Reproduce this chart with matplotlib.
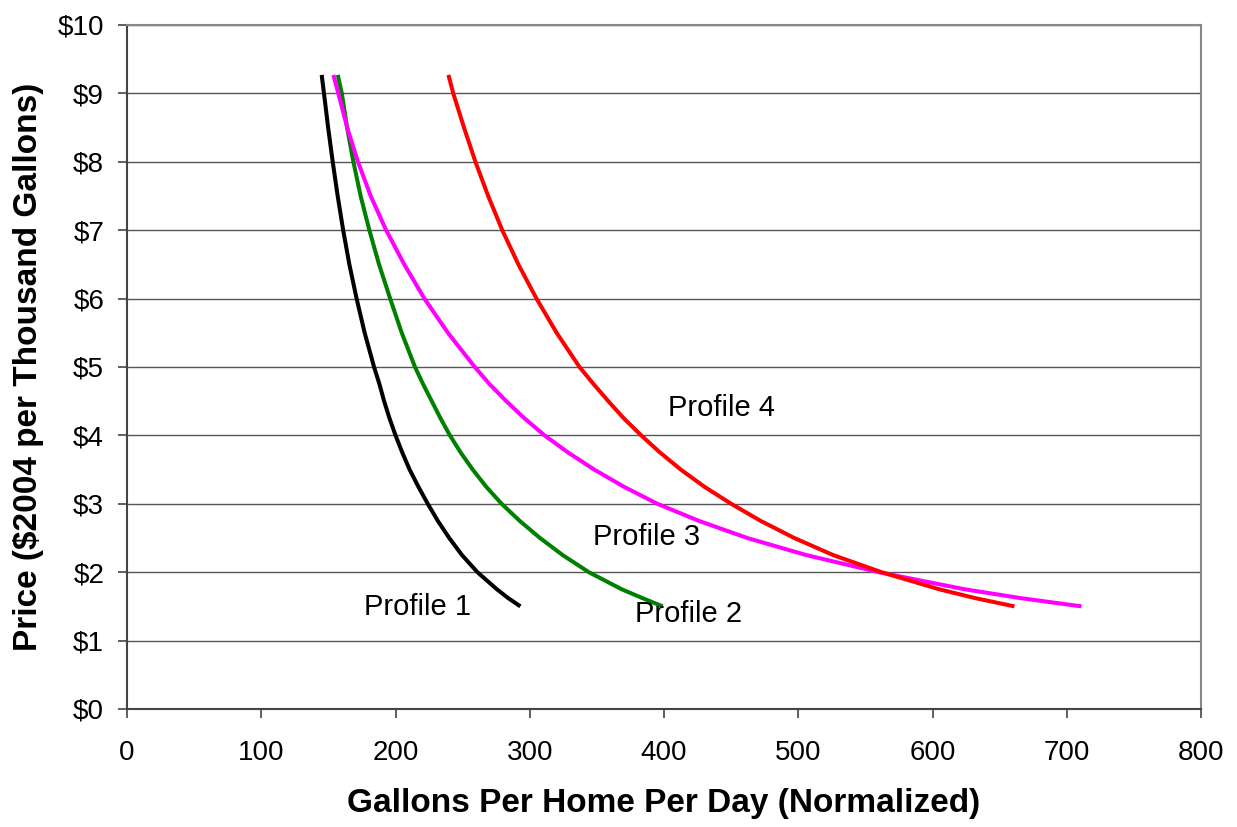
import matplotlib
matplotlib.use("Agg")
import matplotlib.pyplot as plt
from matplotlib.ticker import MultipleLocator, FuncFormatter

plt.rcParams['font.family'] = ['Liberation Sans', 'DejaVu Sans']

# values (gallons per home per day, price $)
price = [9.27, 9, 8.5, 8, 7.5, 7, 6.5, 6, 5.5, 5, 4.75, 4.5,
         4.25, 4, 3.75, 3.5, 3.25, 3, 2.75, 2.5, 2.25, 2, 1.75, 1.62, 1.5]

p1_gal = [145, 146.7, 149.8, 153.2, 156.9, 161, 165.6, 171, 177, 184, 188, 191.5,
          195.5, 200, 205, 210.5, 217, 224, 231.5, 240, 249.5, 261, 275.5, 284, 293]

p2_gal = [157, 160, 163.9, 168.6, 174, 180.5, 187.7, 196, 204.6, 214.5, 220.5, 227,
          233.5, 240.5, 248.5, 257.5, 267.5, 279, 292.5, 307.6, 324.5, 344, 368.5, 384, 399]

p3_gal = [153.7, 157.4, 164, 172, 181.5, 193, 206.5, 221.5, 239, 259, 270, 282.5,
          296, 311, 328.5, 348, 370, 395, 426, 462, 506, 560, 624, 666, 711]

p4_gal = [239.4, 243, 251, 259.5, 269, 279.5, 291.5, 305, 320, 337, 347.5, 358.5,
          370, 383, 397, 412.5, 430, 450, 472, 497, 526, 562, 605, 632, 661]

labels = ['Profile 1', 'Profile 2', 'Profile 3', 'Profile 4']
label_pos = [(216, 1.49), (418, 1.39), (387, 2.51), (443, 4.4)]

fig = plt.figure(figsize=(12.37, 8.27), dpi=100)
ax = fig.add_axes([0.1027, 0.1427, 0.8682, 0.8271])

ax.plot(p1_gal, price, color='black', lw=2.9, solid_capstyle='butt')
ax.plot(p2_gal, price, color='#008000', lw=2.9, solid_capstyle='butt')
ax.plot(p3_gal, price, color='#FF00FF', lw=2.9, solid_capstyle='butt')
ax.plot(p4_gal, price, color='#FF0000', lw=2.9, solid_capstyle='butt')

for txt, (x, y) in zip(labels, label_pos):
    ax.text(x, y, txt, fontsize=21, ha='center', va='center')

ax.set_xlim(0, 800)
ax.set_ylim(0, 10)
ax.xaxis.set_major_locator(MultipleLocator(100))
ax.yaxis.set_major_locator(MultipleLocator(1))
ax.yaxis.set_major_formatter(FuncFormatter(lambda v, pos: '$%d' % v))

ax.grid(axis='y', color='#555555', lw=1.0)
ax.set_axisbelow(True)

for s in ['left', 'bottom']:
    ax.spines[s].set_color('#444444')
    ax.spines[s].set_linewidth(1.5)
for s in ['top', 'right']:
    ax.spines[s].set_color('#888888')
    ax.spines[s].set_linewidth(1.5)

ax.tick_params(axis='both', direction='out', length=6.5, width=1.2,
               color='#444444', labelsize=20)
ax.tick_params(axis='x', pad=16)
ax.tick_params(axis='y', pad=10)

ax.set_xlabel('Gallons Per Home Per Day (Normalized)', fontsize=24,
              fontweight='bold', labelpad=16)
ax.set_ylabel('Price ($2004 per Thousand Gallons)', fontsize=24,
              fontweight='bold', labelpad=10)

fig.savefig('out.png', dpi=100)
